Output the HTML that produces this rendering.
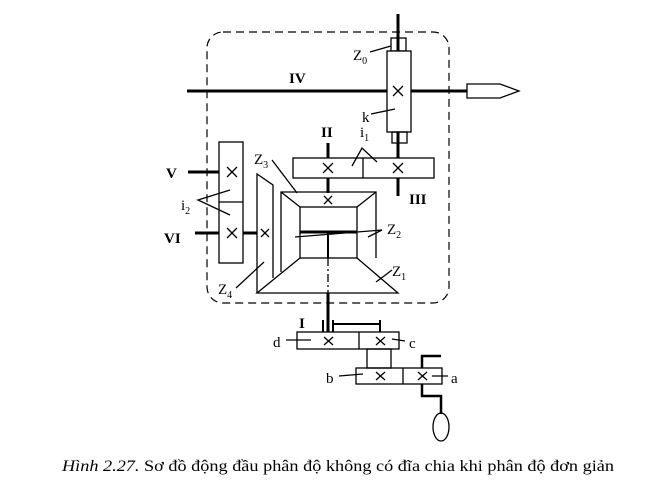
<!DOCTYPE html>
<html><head><meta charset="utf-8"><style>
html,body{margin:0;padding:0;background:#fff;}
svg{display:block;}
text{font-family:"Liberation Serif","Times New Roman",serif;fill:#000;}
</style></head><body>
<svg width="664" height="483" viewBox="0 0 664 483" xmlns="http://www.w3.org/2000/svg">
<g fill="none" stroke="#000" stroke-width="1.3">
<rect x="207" y="32" width="242" height="271" rx="16" stroke-dasharray="8,5" stroke-width="1.2"/>
<line x1="398" y1="14" x2="398" y2="51" stroke-width="3"/>
<rect x="391" y="38" width="15" height="13"/>
<rect x="387" y="51" width="24" height="81" fill="#fff"/>
<rect x="392" y="132" width="15" height="11"/>
<line x1="398" y1="132" x2="398" y2="196" stroke-width="3"/>
<line x1="187" y1="91" x2="387" y2="91" stroke-width="3"/>
<line x1="411" y1="91" x2="467" y2="91" stroke-width="3"/>
<path d="M467 84 L500 84 L519 91 L500 98 L467 98 Z"/>
<path d="M393 86 L403 96 M403 86 L393 96"/>
<line x1="371" y1="114" x2="395" y2="109"/>
<line x1="370" y1="52" x2="391" y2="46"/>
<line x1="328" y1="143" x2="328" y2="193" stroke-width="3"/>
<rect x="293" y="158" width="141" height="20" fill="#fff"/>
<line x1="363" y1="158" x2="363" y2="178"/>
<path d="M323 163 L333 173 M333 163 L323 173"/>
<path d="M393 163 L403 173 M403 163 L393 173"/>
<path d="M352 166 L362 148 L377 162"/>
<path d="M281 272 L281 192 L376 192 L376 258"/>
<rect x="300" y="207" width="57" height="51"/>
<path d="M281 192 L300 207 M376 192 L357 207"/>
<line x1="300" y1="232" x2="357" y2="232" stroke-width="3"/>
<path d="M300 258 L257 293 L398 293 L357 258"/>
<path d="M324 196 L332 204 M332 196 L324 204"/>
<line x1="328" y1="232" x2="328" y2="258" stroke-width="2"/>
<line x1="328" y1="258" x2="328" y2="293" stroke-dasharray="8,3,2,3"/>
<line x1="328" y1="293" x2="328" y2="332" stroke-width="3"/>
<path d="M257 293 L257 174 L273 185 L273 278"/>
<path d="M261 229 L269 237 M269 229 L261 237"/>
<rect x="219" y="142" width="24" height="121"/>
<line x1="219" y1="202" x2="243" y2="202"/>
<path d="M227 167 L237 177 M237 167 L227 177"/>
<path d="M227 228 L237 238 M237 228 L227 238"/>
<line x1="188" y1="172" x2="219" y2="172" stroke-width="3"/>
<line x1="195" y1="233" x2="219" y2="233" stroke-width="3"/>
<line x1="243" y1="233" x2="257" y2="233" stroke-width="3"/>
<path d="M230 190 L198 200 L230 215"/>
<path d="M272 160 L297 193"/>
<path d="M295 237 L382 230 M382 230 L368 237"/>
<path d="M376 282 L392 270"/>
<path d="M236 288 L264 262"/>
<line x1="323" y1="320" x2="323" y2="332" stroke-width="2"/>
<path d="M333 320 L333 332 M333 324 L380 324 M380 320 L380 332" stroke-width="2"/>
<rect x="297" y="332" width="102" height="17"/>
<line x1="359" y1="332" x2="359" y2="349"/>
<path d="M324 337 L333 345 M333 337 L324 345"/>
<path d="M376 337 L385 345 M385 337 L376 345"/>
<rect x="367" y="349" width="24" height="19"/>
<rect x="356" y="368" width="86" height="16"/>
<line x1="403" y1="368" x2="403" y2="384"/>
<path d="M376 372 L385 380 M385 372 L376 380"/>
<path d="M418 372 L427 380 M427 372 L418 380"/>
<path d="M422 368 L422 356 L441 356" stroke-width="2.5"/>
<path d="M422 384 L422 396 L441 396 L441 414" stroke-width="2.5"/>
<ellipse cx="441" cy="427" rx="8" ry="14"/>
<path d="M286 340 L311 340 M392 339 L405 341 M339 376 L363 374 M432 376 L448 376"/>
</g>
<g font-size="15">
<text x="353" y="60">Z<tspan font-size="10" dy="4">0</tspan></text>
<text x="289" y="83" font-weight="bold">IV</text>
<text x="362" y="122">k</text>
<text x="321" y="137" font-weight="bold">II</text>
<text x="360" y="137">i<tspan font-size="10" dy="4">1</tspan></text>
<text x="409" y="204" font-weight="bold">III</text>
<text x="254" y="164">Z<tspan font-size="10" dy="4">3</tspan></text>
<text x="387" y="234">Z<tspan font-size="10" dy="4">2</tspan></text>
<text x="392" y="276">Z<tspan font-size="10" dy="4">1</tspan></text>
<text x="218" y="294">Z<tspan font-size="10" dy="4">4</tspan></text>
<text x="166" y="178" font-weight="bold">V</text>
<text x="181" y="210">i<tspan font-size="10" dy="4">2</tspan></text>
<text x="164" y="243" font-weight="bold">VI</text>
<text x="299" y="328" font-weight="bold">I</text>
<text x="273" y="347">d</text>
<text x="409" y="348">c</text>
<text x="326" y="383">b</text>
<text x="451" y="383">a</text>
<text x="62" y="471" font-size="16" textLength="552" lengthAdjust="spacingAndGlyphs"><tspan font-style="italic">Hình 2.27.</tspan> Sơ đồ động đầu phân độ không có đĩa chia khi phân độ đơn giản</text>
</g>
</svg>
</body></html>
